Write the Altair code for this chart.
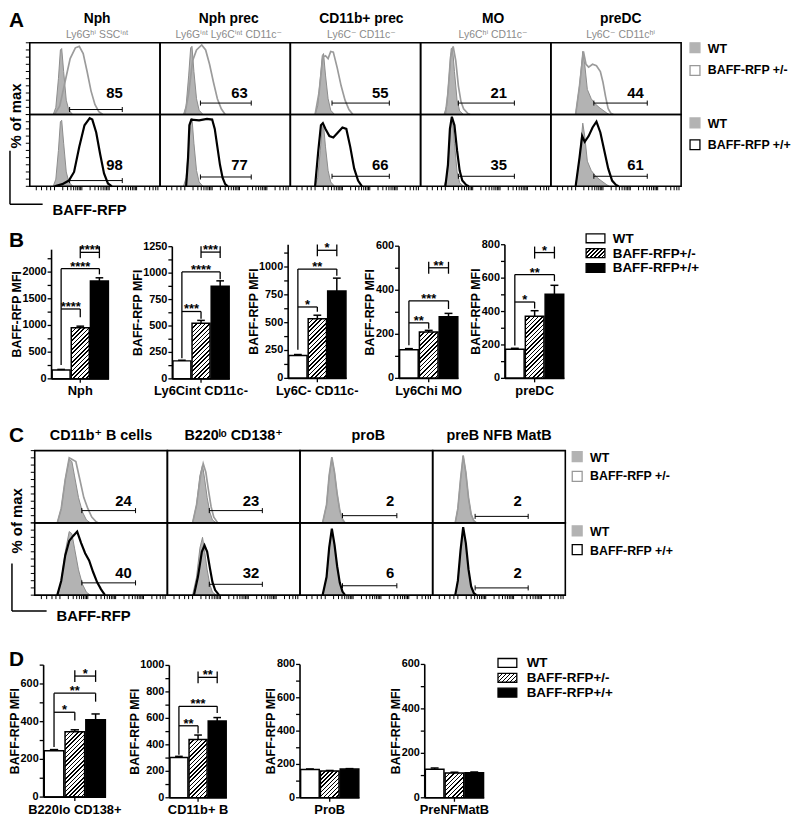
import math
import altair as alt
import pandas as pd

FONT = "Liberation Sans, Arial, Helvetica, DejaVu Sans, sans-serif"
W, H, M = 792, 811, 8

GRAY_FILL = "#b3b3b3"
GRAY_EDGE = "#8c8c8c"
HET_LINE = "#9b9b9b"


def px(v):
    return v - M


def py(v):
    return v - M


# ====================== DATA ======================
groups = ["WT", "BAFF-RFP+/-", "BAFF-RFP+/+"]

# ---- Panel A (flow histograms) ----
a_titles = ["Nph", "Nph prec", "CD11b+ prec", "MO", "preDC"]
a_subtitles = ["Ly6G\u02b0\u2071 SSC\u2071\u207f\u1d57",
               "Ly6G\u2071\u207f\u1d57 Ly6C\u2071\u207f\u1d57 CD11c\u207b",
               "Ly6C\u207b CD11c\u207b",
               "Ly6C\u02b0\u2071 CD11c\u207b",
               "Ly6C\u207b CD11c\u02b0\u2071"]
a_wt_x = [
    [0.18, 0.20, 0.22, 0.235, 0.245, 0.26, 0.28, 0.30, 0.33],
    [0.18, 0.20, 0.22, 0.235, 0.245, 0.26, 0.28, 0.30, 0.33],
    [0.19, 0.21, 0.23, 0.245, 0.255, 0.27, 0.29, 0.31, 0.34],
    [0.18, 0.20, 0.22, 0.235, 0.245, 0.26, 0.28, 0.30, 0.33],
    [0.19, 0.22, 0.245, 0.26, 0.28, 0.31, 0.34, 0.37, 0.40, 0.43, 0.45],
]
a_wt_y = [
    [0, 0.10, 0.50, 0.90, 0.92, 0.60, 0.20, 0.06, 0],
    [0, 0.12, 0.55, 0.93, 0.95, 0.60, 0.22, 0.06, 0],
    [0, 0.12, 0.50, 0.82, 0.85, 0.55, 0.22, 0.06, 0],
    [0, 0.12, 0.55, 0.92, 0.93, 0.60, 0.20, 0.05, 0],
    [0, 0.40, 0.88, 0.70, 0.35, 0.22, 0.15, 0.10, 0.06, 0.02, 0],
]
a_het_x = [
    [0.19, 0.23, 0.27, 0.31, 0.35, 0.38, 0.41, 0.44, 0.47, 0.50, 0.53, 0.56],
    [0.19, 0.22, 0.25, 0.28, 0.32, 0.35, 0.38, 0.41, 0.44, 0.47, 0.50],
    [0.19, 0.22, 0.25, 0.27, 0.29, 0.31, 0.33, 0.36, 0.39, 0.42, 0.45, 0.48],
    [0.19, 0.21, 0.23, 0.25, 0.27, 0.29, 0.31, 0.33, 0.36, 0.38],
    [0.19, 0.22, 0.25, 0.27, 0.29, 0.32, 0.35, 0.38, 0.40, 0.42, 0.44, 0.46, 0.48],
]
a_het_y = [
    [0, 0.12, 0.45, 0.78, 0.93, 0.95, 0.85, 0.60, 0.33, 0.14, 0.04, 0],
    [0, 0.30, 0.75, 0.90, 0.97, 0.90, 0.70, 0.45, 0.22, 0.08, 0],
    [0, 0.30, 0.80, 0.82, 0.78, 0.88, 0.87, 0.65, 0.40, 0.20, 0.07, 0],
    [0, 0.30, 0.80, 0.95, 0.75, 0.40, 0.18, 0.08, 0.02, 0],
    [0, 0.40, 0.88, 0.70, 0.66, 0.70, 0.68, 0.60, 0.45, 0.25, 0.08, 0.02, 0],
]
a_homo_x = [
    [0.19, 0.25, 0.30, 0.34, 0.38, 0.42, 0.46, 0.48, 0.51, 0.54, 0.57, 0.60, 0.63],
    [0.20, 0.215, 0.225, 0.24, 0.30, 0.36, 0.40, 0.42, 0.44, 0.46, 0.48, 0.50, 0.52],
    [0.19, 0.215, 0.235, 0.25, 0.27, 0.30, 0.33, 0.36, 0.40, 0.43, 0.46, 0.49, 0.52, 0.55],
    [0.19, 0.21, 0.225, 0.24, 0.26, 0.28, 0.30, 0.32, 0.35, 0.37],
    [0.19, 0.22, 0.24, 0.26, 0.29, 0.32, 0.35, 0.38, 0.41, 0.44, 0.47, 0.50, 0.52],
]
a_homo_y = [
    [0, 0.03, 0.08, 0.20, 0.55, 0.85, 0.95, 0.93, 0.75, 0.45, 0.18, 0.04, 0],
    [0, 0.40, 0.85, 0.93, 0.92, 0.94, 0.93, 0.80, 0.55, 0.30, 0.12, 0.03, 0],
    [0, 0.50, 0.85, 0.88, 0.80, 0.70, 0.68, 0.74, 0.82, 0.80, 0.55, 0.25, 0.08, 0],
    [0, 0.30, 0.80, 0.97, 0.85, 0.50, 0.22, 0.08, 0.02, 0],
    [0, 0.40, 0.70, 0.62, 0.70, 0.82, 0.90, 0.75, 0.50, 0.25, 0.08, 0.02, 0],
]
a_gate_lo = [0.306, 0.31, 0.32, 0.29, 0.33]
a_gate_hi = [0.71, 0.70, 0.76, 0.72, 0.74]
a_gate_y_top = [0.07, 0.16, 0.16, 0.16, 0.16]
a_gate_y_bot = [0.08, 0.13, 0.14, 0.14, 0.14]
a_pct_top = ["85", "63", "55", "21", "44"]
a_pct_bot = ["98", "77", "66", "35", "61"]
a_lab_x = [0.65, 0.61, 0.69, 0.60, 0.65]

# ---- Panel C (flow histograms) ----
c_titles = ["CD11b\u207a B cells", "B220\u02e1\u1d52 CD138\u207a", "proB", "preB NFB MatB"]
c_wt_x = [
    [0.17, 0.20, 0.23, 0.26, 0.28, 0.30, 0.33, 0.36, 0.39, 0.42],
    [0.19, 0.22, 0.245, 0.265, 0.28, 0.30, 0.32, 0.34, 0.37],
    [0.17, 0.20, 0.22, 0.24, 0.26, 0.28, 0.30, 0.32, 0.34],
    [0.17, 0.19, 0.21, 0.23, 0.25, 0.27, 0.29, 0.31, 0.33],
]
c_wt_y = [
    [0, 0.20, 0.60, 0.88, 0.85, 0.65, 0.35, 0.15, 0.04, 0],
    [0, 0.25, 0.65, 0.80, 0.62, 0.35, 0.15, 0.04, 0],
    [0, 0.25, 0.65, 0.90, 0.70, 0.40, 0.17, 0.05, 0],
    [0, 0.20, 0.60, 0.93, 0.70, 0.35, 0.12, 0.03, 0],
]
c_het_x = [
    [0.17, 0.20, 0.23, 0.26, 0.28, 0.31, 0.34, 0.37, 0.40, 0.43, 0.46, 0.48],
    [0.19, 0.22, 0.25, 0.27, 0.29, 0.31, 0.33, 0.35, 0.38],
    [0.17, 0.20, 0.22, 0.24, 0.26, 0.28, 0.30, 0.32, 0.34],
    [0.17, 0.19, 0.21, 0.23, 0.25, 0.27, 0.29, 0.31, 0.33],
]
c_het_y = [
    [0, 0.20, 0.60, 0.90, 0.88, 0.85, 0.60, 0.35, 0.20, 0.08, 0.02, 0],
    [0, 0.25, 0.65, 0.82, 0.70, 0.45, 0.22, 0.08, 0],
    [0, 0.25, 0.66, 0.91, 0.70, 0.40, 0.17, 0.05, 0],
    [0, 0.20, 0.60, 0.93, 0.70, 0.35, 0.12, 0.03, 0],
]
c_homo_x = [
    [0.17, 0.20, 0.23, 0.26, 0.29, 0.32, 0.35, 0.38, 0.41, 0.44, 0.47, 0.50, 0.53],
    [0.20, 0.23, 0.26, 0.28, 0.30, 0.32, 0.34, 0.36, 0.39],
    [0.17, 0.20, 0.22, 0.24, 0.26, 0.28, 0.30, 0.32, 0.34],
    [0.17, 0.19, 0.21, 0.23, 0.25, 0.27, 0.29, 0.31, 0.33],
]
c_homo_y = [
    [0, 0.20, 0.55, 0.75, 0.82, 0.88, 0.72, 0.58, 0.48, 0.32, 0.18, 0.08, 0],
    [0, 0.25, 0.60, 0.69, 0.60, 0.38, 0.18, 0.07, 0],
    [0, 0.25, 0.66, 0.92, 0.70, 0.40, 0.17, 0.05, 0],
    [0, 0.20, 0.62, 0.94, 0.72, 0.36, 0.12, 0.03, 0],
]
c_gate_lo = [0.355, 0.316, 0.32, 0.32]
c_gate_hi = [0.76, 0.716, 0.73, 0.72]
c_gate_y_top = [0.17, 0.17, 0.10, 0.09]
c_gate_y_bot = [0.17, 0.15, 0.13, 0.10]
c_pct_top = ["24", "23", "2", "2"]
c_pct_bot = ["40", "32", "6", "2"]
c_lab_x = [0.67, 0.63, 0.68, 0.64]

# ---- Panel B (MFI bars) ----
b_labels = ["Nph", "Ly6Cint CD11c-", "Ly6C- CD11c-", "Ly6Chi MO", "preDC"]
b_means = [[167, 957, 1833], [170, 525, 875], [206, 535, 785], [130, 210, 280], [174, 372, 504]]
b_errs = [[10, 30, 60], [6, 28, 52], [8, 32, 115], [5, 8, 15], [6, 33, 53]]
b_brackets = [
    [(0, 1, 1309, 1309, 1309, 1155, 1309, "****"), (0, 2, 2063, 260, 2063, 1957, 2063, "****"),
     (1, 2, 2370, 2260, 2480, 2260, 2480, "****")],
    [(0, 1, 637, 637, 637, 568, 637, "***"), (0, 2, 1011, 194, 1011, 943, 1011, "****"),
     (1, 2, 1199, 1143, 1255, 1143, 1255, "***")],
    [(0, 1, 641, 641, 641, 597, 641, "*"), (0, 2, 981, 257, 981, 922, 981, "**"),
     (1, 2, 1150, 1097, 1203, 1097, 1203, "*")],
    [(0, 1, 252, 252, 252, 225, 252, "**"), (0, 2, 352, 150, 352, 315, 352, "***"),
     (1, 2, 502, 475, 529, 475, 529, "**")],
    [(0, 1, 457, 457, 457, 418, 457, "*"), (0, 2, 621, 197, 621, 582, 621, "**"),
     (1, 2, 753, 717, 789, 717, 789, "*")],
]
b_axis_max = [2420, 1250, 1200, 600, 800]
b_ticks = [[0, 500, 1000, 1500, 2000], [0, 250, 500, 750, 1000, 1250], [0, 250, 500, 750, 1000],
           [0, 200, 400, 600], [0, 200, 400, 600, 800]]

# ---- Panel D (MFI bars) ----
d_labels = ["B220lo CD138+", "CD11b+ B", "ProB", "PreNFMatB"]
d_means = [[246, 346, 410], [305, 440, 580], [170, 160, 172], [128, 112, 113]]
d_errs = [[6, 11, 31], [8, 34, 26], [3, 4, 3], [6, 3, 3]]
d_brackets = [
    [(0, 1, 450, 450, 450, 406, 450, "*"), (0, 2, 551, 266, 551, 506, 551, "**"),
     (1, 2, 642, 611, 673, 611, 673, "*")],
    [(0, 1, 544, 544, 544, 486, 544, "**"), (0, 2, 691, 325, 691, 641, 691, "***"),
     (1, 2, 910, 865, 955, 865, 955, "**")],
    [],
    [],
]
d_axis_max = [700, 1000, 800, 600]
d_ticks = [[0, 200, 400, 600], [0, 200, 400, 600, 800, 1000], [0, 200, 400, 600, 800], [0, 200, 400, 600]]


# ====================== HELPERS ======================
def hatch(w, h, period=4.3, frac=0.36):
    s = (w + h) / (w * w + h * h)
    n = max(1, int(round((w + h) / period)))
    stops = []
    for i in range(n):
        a, b, c = i / n, (i + frac) / n, (i + 1) / n
        stops += [alt.GradientStop(offset=a, color="black"), alt.GradientStop(offset=b, color="black"),
                  alt.GradientStop(offset=b, color="white"), alt.GradientStop(offset=c, color="white")]
    return alt.LinearGradient(gradient="linear", stops=stops, x1=0, y1=0, x2=s * w, y2=s * h)


def T(s, x, y, size=13, weight="bold", color="black", align="center", angle=0, baseline="middle"):
    return alt.Chart(alt.Data(values=[{"t": s}])).mark_text(
        fontSize=size, fontWeight=weight, color=color, align=align, angle=angle,
        baseline=baseline, font=FONT
    ).encode(text="t:N", x=alt.value(px(x)), y=alt.value(py(y)))


def R(x0, y0, x1, y1, fill, stroke, sw=1.3):
    return alt.Chart(alt.Data(values=[{}])).mark_rect(fill=fill, stroke=stroke, strokeWidth=sw).encode(
        x=alt.value(px(x0)), x2=alt.value(px(x1)), y=alt.value(py(y0)), y2=alt.value(py(y1)))


def Lv(x, y0, y1, sw=1.5):
    return alt.Chart(alt.Data(values=[{}])).mark_rule(color="black", strokeWidth=sw).encode(
        x=alt.value(px(x)), y=alt.value(py(y0)), y2=alt.value(py(y1)))


def Lh(x0, x1, y, sw=1.5):
    return alt.Chart(alt.Data(values=[{}])).mark_rule(color="black", strokeWidth=sw).encode(
        x=alt.value(px(x0)), x2=alt.value(px(x1)), y=alt.value(py(y)))


def hist_grid(ncol, wt_x, wt_y, het_x, het_y, homo_x, homo_y,
              g_lo, g_hi, gy_top, gy_bot, pct_top, pct_bot, lab_x,
              xl, xr, yt, yb):
    recs = []
    for c in range(ncol):
        for xv, yv in zip(wt_x[c], wt_y[c]):
            recs.append({"key": f"w1_{c}", "kind": "wt", "col": c, "rb": 1, "x": xv, "y": yv})
            recs.append({"key": f"w0_{c}", "kind": "wt", "col": c, "rb": 0, "x": xv, "y": yv})
        for xv, yv in zip(het_x[c], het_y[c]):
            recs.append({"key": f"he_{c}", "kind": "het", "col": c, "rb": 1, "x": xv, "y": yv})
        for xv, yv in zip(homo_x[c], homo_y[c]):
            recs.append({"key": f"ho_{c}", "kind": "homo", "col": c, "rb": 0, "x": xv, "y": yv})
    curves = pd.DataFrame(recs)
    cells = pd.DataFrame([{"col": c, "rb": r} for c in range(ncol) for r in (0, 1)])
    grecs = []
    for c in range(ncol):
        grecs.append({"col": c, "rb": 1, "g0": g_lo[c], "g1": g_hi[c], "gy": gy_top[c], "lab": pct_top[c], "lx": lab_x[c]})
        grecs.append({"col": c, "rb": 0, "g0": g_lo[c], "g1": g_hi[c], "gy": gy_bot[c], "lab": pct_bot[c], "lx": lab_x[c]})
    gates = pd.DataFrame(grecs)

    xs = alt.Scale(domain=[0, ncol], range=[px(xl), px(xr)], nice=False, zero=False)
    ys = alt.Scale(domain=[0, 2], range=[py(yb), py(yt)], nice=False, zero=False)

    # log-style tick marks along the bottom edge and the left edge (axis decoration)
    fr = [0.05, 0.09, 0.13, 0.16]
    for d0 in (0.19, 0.40, 0.61, 0.82):
        fr.append(d0)
        for k in range(2, 10):
            f = d0 + 0.21 * math.log10(k)
            if f < 0.99:
                fr.append(f)
    xt = pd.DataFrame({"t": [round(c + f, 4) for c in range(ncol) for f in fr]})
    yt_df = pd.DataFrame({"t": [round(r + k / 10, 2) for r in (0, 1) for k in range(11)]})

    cb = alt.Chart(curves).transform_calculate(gx="datum.col + datum.x", gy="datum.rb + datum.y")
    X = alt.X("gx:Q", scale=xs, axis=None)
    Y = alt.Y("gy:Q", scale=ys, axis=None)
    area = cb.transform_filter("datum.kind == 'wt'").mark_area(color=GRAY_FILL, opacity=1).encode(
        x=X, y=Y, y2="rb:Q", detail="key:N")
    wtline = cb.transform_filter("datum.kind == 'wt'").mark_line(color=GRAY_EDGE, strokeWidth=1).encode(
        x=X, y=Y, detail="key:N")
    hetline = cb.transform_filter("datum.kind == 'het'").mark_line(color=HET_LINE, strokeWidth=1.7).encode(
        x=X, y=Y, detail="key:N")
    homoline = cb.transform_filter("datum.kind == 'homo'").mark_line(color="black", strokeWidth=2.2).encode(
        x=X, y=Y, detail="key:N")

    gb = alt.Chart(gates).transform_calculate(
        gx0="datum.col + datum.g0", gx1="datum.col + datum.g1", gyy="datum.rb + datum.gy",
        gya="datum.rb + datum.gy - 0.035", gyb="datum.rb + datum.gy + 0.035",
        tx="datum.col + datum.lx", ty="datum.rb + 0.30")
    grule = gb.mark_rule(color="black", strokeWidth=1).encode(
        x=alt.X("gx0:Q", scale=xs, axis=None), x2="gx1:Q", y=alt.Y("gyy:Q", scale=ys, axis=None))
    gl = gb.mark_rule(color="black", strokeWidth=1).encode(
        x=alt.X("gx0:Q", scale=xs, axis=None), y=alt.Y("gya:Q", scale=ys, axis=None), y2="gyb:Q")
    gr = gb.mark_rule(color="black", strokeWidth=1).encode(
        x=alt.X("gx1:Q", scale=xs, axis=None), y=alt.Y("gya:Q", scale=ys, axis=None), y2="gyb:Q")
    gt = gb.mark_text(fontSize=15, fontWeight="bold", font=FONT, color="black").encode(
        x=alt.X("tx:Q", scale=xs, axis=None), y=alt.Y("ty:Q", scale=ys, axis=None), text="lab:N")

    xticks = alt.Chart(xt).mark_rule(color="black", strokeWidth=1).encode(
        x=alt.X("t:Q", scale=xs, axis=None), y=alt.value(py(yb)), y2=alt.value(py(yb) + 4))
    yticks = alt.Chart(yt_df).mark_rule(color="black", strokeWidth=1).encode(
        y=alt.Y("t:Q", scale=ys, axis=None), x=alt.value(px(xl) - 4), x2=alt.value(px(xl)))

    border = alt.Chart(cells).transform_calculate(c2="datum.col + 1", r2="datum.rb + 1").mark_rect(
        fillOpacity=0, stroke="black", strokeWidth=1.6).encode(
        x=alt.X("col:Q", scale=xs, axis=None), x2="c2:Q",
        y=alt.Y("rb:Q", scale=ys, axis=None), y2="r2:Q")
    return alt.layer(area, wtline, hetline, homoline, grule, gl, gr, gt, xticks, yticks, border)


def bar_chart(means, errs, brackets, ticks, x0, x1, y0, ytop, dmax, xlabel, xlab_dy):
    df = pd.DataFrame({"idx": [0, 1, 2], "group": groups, "mean": means, "err": errs})
    xs = alt.Scale(domain=[0, 3], range=[px(x0), px(x1)], nice=False, zero=False)
    ys = alt.Scale(domain=[0, dmax], range=[py(y0), py(ytop)], nice=False, zero=True)
    NX = lambda f: alt.X(f, scale=xs, axis=None)
    NY = lambda f: alt.Y(f, scale=ys, axis=None)

    base = alt.Chart(df).transform_calculate(
        xa="datum.idx + 0.03", xb="datum.idx + 0.97", xc="datum.idx + 0.5",
        top="datum.mean + datum.err", ca="datum.idx + 0.3", cb="datum.idx + 0.7")
    pxu = (y0 - ytop) / dmax
    bw = (x1 - x0) / 3 * 0.94
    fills = ["white", hatch(bw, means[1] * pxu), "black"]
    layers = []
    for i in range(3):
        layers.append(base.transform_filter(f"datum.idx == {i}").mark_bar(
            fill=fills[i], stroke="black", strokeWidth=1.5).encode(
            x=NX("xa:Q"), x2="xb:Q", y=NY("mean:Q"), y2=alt.datum(0)))
    layers.append(base.mark_rule(color="black", strokeWidth=1.5).encode(
        x=NX("xc:Q"), y=NY("mean:Q"), y2="top:Q"))
    layers.append(base.mark_rule(color="black", strokeWidth=1.5).encode(
        x=NX("ca:Q"), x2="cb:Q", y=NY("top:Q")))

    if brackets:
        bdf = pd.DataFrame(brackets, columns=["c1", "c2", "lev", "l1a", "l1b", "l2a", "l2b", "lab"])
        bb = alt.Chart(bdf).transform_calculate(
            bx1="datum.c1 + 0.5", bx2="datum.c2 + 0.5", bxm="(datum.c1 + datum.c2) / 2 + 0.5")
        layers.append(bb.mark_rule(color="black", strokeWidth=1.3).encode(
            x=NX("bx1:Q"), x2="bx2:Q", y=NY("lev:Q")))
        layers.append(bb.mark_rule(color="black", strokeWidth=1.3).encode(
            x=NX("bx1:Q"), y=NY("l1a:Q"), y2="l1b:Q"))
        layers.append(bb.mark_rule(color="black", strokeWidth=1.3).encode(
            x=NX("bx2:Q"), y=NY("l2a:Q"), y2="l2b:Q"))
        layers.append(bb.mark_text(fontSize=13, fontWeight="bold", font=FONT, baseline="alphabetic",
                                   dy=2, color="black").encode(
            x=NX("bxm:Q"), y=NY("lev:Q"), text="lab:N"))

    # ---- axes (domain line, ticks, labels, titles) drawn through the same scales ----
    step = (ticks[1] - ticks[0]) / 2
    allticks = [k * step for k in range(int(dmax // step) + 1)]
    tdf = pd.DataFrame({"v": allticks})
    ldf = pd.DataFrame({"v": ticks, "lab": [str(t) for t in ticks]})
    adf = pd.DataFrame({"lo": [0], "hi": [dmax], "xl": [0], "xr": [3], "xm": [1.5], "ttl": [xlabel]})
    ax = px(x0)
    layers.append(alt.Chart(adf).mark_rule(color="black", strokeWidth=1.6).encode(
        x=alt.value(ax), y=NY("lo:Q"), y2="hi:Q"))
    layers.append(alt.Chart(tdf).mark_rule(color="black", strokeWidth=1.3).encode(
        x=alt.value(ax - 4), x2=alt.value(ax), y=NY("v:Q")))
    layers.append(alt.Chart(ldf).mark_text(fontSize=11, fontWeight="bold", font=FONT, align="right",
                                           baseline="middle", color="black").encode(
        x=alt.value(ax - 5), y=NY("v:Q"), text="lab:N"))
    lw = max(len(str(t)) for t in ticks) * 6.1
    layers.append(T("BAFF-RFP MFI", x0 - 5 - lw - 5.5, (y0 + ytop) / 2, size=12.5, angle=270))
    layers.append(alt.Chart(adf).mark_rule(color="black", strokeWidth=1.6).encode(
        x=NX("xl:Q"), x2="xr:Q", y=alt.value(py(y0))))
    layers.append(alt.Chart(adf).mark_rule(color="black", strokeWidth=1.3).encode(
        x=NX("xm:Q"), y=alt.value(py(y0)), y2=alt.value(py(y0) + 4)))
    layers.append(alt.Chart(adf).mark_text(fontSize=13, fontWeight="bold", font=FONT, baseline="middle",
                                           color="black").encode(
        x=NX("xm:Q"), y=alt.value(py(y0) + xlab_dy), text="ttl:N"))
    return alt.layer(*layers)


# ====================== BUILD ======================
panelA = hist_grid(5, a_wt_x, a_wt_y, a_het_x, a_het_y, a_homo_x, a_homo_y,
                   a_gate_lo, a_gate_hi, a_gate_y_top, a_gate_y_bot, a_pct_top, a_pct_bot, a_lab_x,
                   30, 688, 39, 184)
panelC = hist_grid(4, c_wt_x, c_wt_y, c_het_x, c_het_y, c_homo_x, c_homo_y,
                   c_gate_lo, c_gate_hi, c_gate_y_top, c_gate_y_bot, c_pct_top, c_pct_bot, c_lab_x,
                   35, 571, 451, 597)

b_geom = [(52, 110, 378.5, 248), (174, 232, 378.5, 245), (291, 350, 378, 243),
          (403, 463, 378, 244.5), (510, 570, 378, 243)]
d_geom = [(44, 107, 801, 667.7), (171, 229, 801.7, 668), (303, 363, 801.7, 667), (429, 489, 801.7, 667)]

charts = [panelA, panelC]
for i in range(5):
    x0, x1, y0, yt = b_geom[i]
    charts.append(bar_chart(b_means[i], b_errs[i], b_brackets[i], b_ticks[i], x0, x1, y0, yt,
                            b_axis_max[i], b_labels[i], 12.5))
for i in range(4):
    x0, x1, y0, yt = d_geom[i]
    charts.append(bar_chart(d_means[i], d_errs[i], d_brackets[i], d_ticks[i], x0, x1, y0, yt,
                            d_axis_max[i], d_labels[i], 12.8))

annot = []
# panel letters
for s, y in (("A", 17), ("B", 239), ("C", 436), ("D", 663)):
    annot.append(T(s, 9, y, size=21, align="left"))
# A titles
a_cx = [98, 231, 365, 498, 627]
for i in range(5):
    annot.append(T(a_titles[i], a_cx[i], 15, size=14))
    annot.append(T(a_subtitles[i], a_cx[i], 31, size=10.5, weight="normal", color="#8a8a8a"))
# C titles
c_cx = [102, 236, 372, 504]
for i in range(4):
    annot.append(T(c_titles[i], c_cx[i], 436, size=14.5))
# % of max and BAFF-RFP labels
annot += [T("% of max", 16, 113, size=15, angle=270), Lv(10, 148, 202), Lh(10, 43, 202),
          T("BAFF-RFP", 53, 208, size=15, align="left")]
annot += [T("% of max", 17, 522, size=15, angle=270), Lv(12, 565, 613), Lh(12, 47, 613),
          T("BAFF-RFP", 57, 618, size=15, align="left")]
# A legends
annot += [R(697, 39, 707, 49, GRAY_FILL, GRAY_FILL), T("WT", 715, 45, size=12.5, align="left"),
          R(697, 62, 707, 72, "white", "#999999"), T("BAFF-RFP +/-", 715, 67, size=12.5, align="left"),
          R(697, 115, 707, 125, GRAY_FILL, GRAY_FILL), T("WT", 715, 121, size=12.5, align="left"),
          R(697, 137, 707, 147, "white", "black"), T("BAFF-RFP +/+", 715, 142, size=12.5, align="left")]
# C legends
annot += [R(578, 452, 588, 462, GRAY_FILL, GRAY_FILL), T("WT", 596, 458, size=12.5, align="left"),
          R(578, 472, 588, 482, "white", "#999999"), T("BAFF-RFP +/-", 596, 477, size=12.5, align="left"),
          R(578, 527, 588, 537, GRAY_FILL, GRAY_FILL), T("WT", 596, 533, size=12.5, align="left"),
          R(578, 546, 588, 556, "white", "black"), T("BAFF-RFP +/+", 596, 552, size=12.5, align="left")]
# B legend
annot += [R(592, 232, 611, 241, "white", "black"), T(groups[0], 619, 237, size=13.5, align="left"),
          R(592, 247, 611, 256, hatch(19, 9), "black"), T(groups[1], 619, 252, size=13.5, align="left"),
          R(592, 262, 611, 271, "black", "black"), T(groups[2], 619, 267, size=13.5, align="left")]
# D legend
annot += [R(503, 661, 522, 670, "white", "black"), T(groups[0], 532, 666, size=13.5, align="left"),
          R(503, 676, 522, 685, hatch(19, 9), "black"), T(groups[1], 532, 681, size=13.5, align="left"),
          R(503, 691, 522, 700, "black", "black"), T(groups[2], 532, 696, size=13.5, align="left")]

chart = alt.layer(*charts, *annot).resolve_scale(x="independent", y="independent").properties(
    width=W, height=H, autosize=alt.AutoSizeParams(type="none"), padding=0, background="white"
).configure_view(strokeWidth=0)

chart.save("out.html", embed_options={"renderer": "svg", "actions": False})
